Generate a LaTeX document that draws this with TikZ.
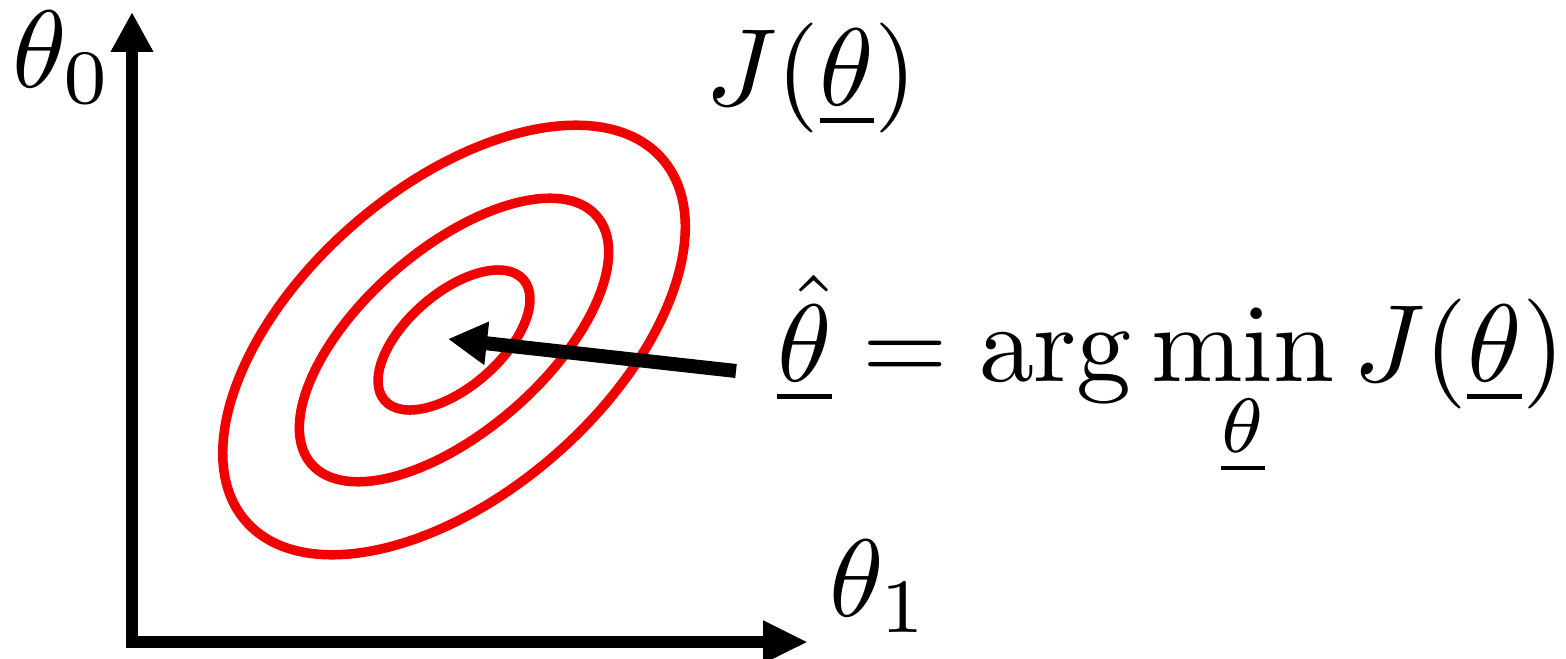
\documentclass[tikz,border=0pt]{standalone}
\usetikzlibrary{arrows.meta}
\begin{document}
\begin{tikzpicture}[x=0.02cm,y=-0.02cm,
  axis/.style={line width=0.23cm, {Triangle[length=0.8cm,width=0.8cm]}-{Triangle[length=0.9cm,width=0.8cm]}},
  contour/.style={draw={rgb,255:red,240;green,0;blue,0}, line width=0.19cm},
  pointer/.style={line width=0.28cm, -{Triangle[length=0.78cm,width=0.82cm]}},
  lbl/.style={inner sep=0pt, anchor=base west, scale=6.26, transform shape}]
\useasboundingbox (0,0) rectangle (1566,659);
% axes
\coordinate (top) at (132,12);
\coordinate (corner) at (132,642);
\coordinate (right) at (808,642);
\draw[axis] (top) -- (corner) -- (right);
% contours
\coordinate (c) at (454,340);
\draw[contour, rotate around={41:(c)}] (c) ellipse [x radius=276, y radius=153];
\draw[contour, rotate around={41:(c)}] (c) ellipse [x radius=189, y radius=91];
\draw[contour, rotate around={41:(c)}] (c) ellipse [x radius=92, y radius=47];
% labels
\node[lbl] (th0) at (10,87) {$\theta_0$};
\node[lbl] (th1) at (827,616) {$\theta_1$};
\node[lbl] (J) at (703,105) {$J(\underline{\theta})$};
\node[lbl] (eq) at (775,381) {$\displaystyle \underline{\hat\theta} = \arg\min_{\underline{\theta}} J(\underline{\theta})$};
% pointer
\coordinate (ptail) at (736,371);
\coordinate (ptip) at (448,339);
\draw[pointer] (ptail) -- (ptip);
\end{tikzpicture}
\end{document}
